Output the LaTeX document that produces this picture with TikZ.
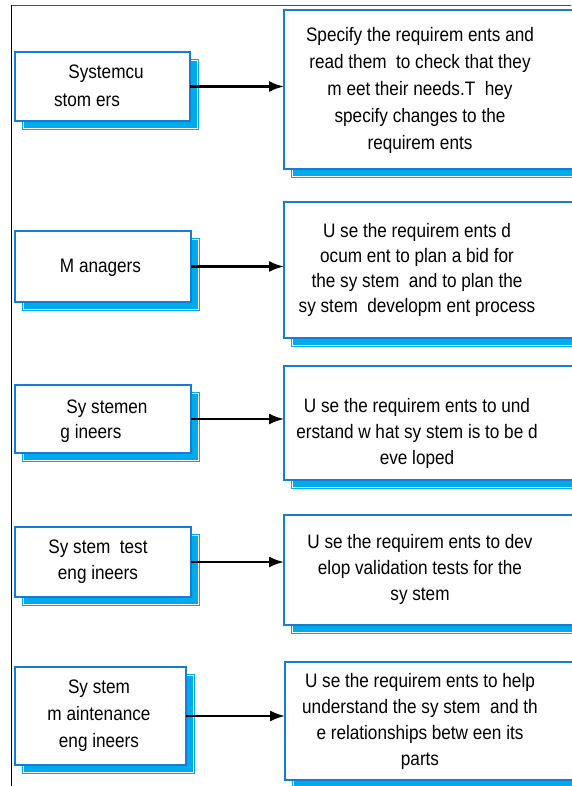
\documentclass[tikz,border=0pt]{standalone}
\usepackage{fontspec}
\setmainfont{Liberation Sans}[FakeStretch=0.88]
\usetikzlibrary{arrows.meta,backgrounds}
\definecolor{boxc}{RGB}{20,125,215}
\definecolor{shc}{RGB}{0,170,235}
\definecolor{framec}{RGB}{80,80,80}
\newcommand\mlines[2]{\fontsize{19.5}{#1}\selectfont\begin{tabular}[t]{@{}c@{}}#2\end{tabular}}
\begin{document}
\begin{tikzpicture}[x=1pt,y=-1pt,
  box/.style={draw=boxc, line width=2.2pt, fill=white, anchor=north west, inner sep=0pt, outer sep=0pt},
  txt/.style={anchor=base, inner sep=0pt, text=black},
  conn/.style={line width=2.2pt, -{Latex[length=15pt,width=11pt]}},
  frameline/.style={line width=1.3pt}]
\useasboundingbox (0,0) rectangle (571,786);
% frame
\draw[frameline, framec] (11,5.5) -- (571,5.5);
\draw[frameline, black, line width=1.1pt] (11.5,5) -- (11.5,786);
% left boxes
\node[box, minimum width=175pt, minimum height=69pt] (L1) at (15,52) {};
\node[box, minimum width=176pt, minimum height=71pt] (L2) at (15,231) {};
\node[box, minimum width=176pt, minimum height=68pt] (L3) at (15,385) {};
\node[box, minimum width=176pt, minimum height=70pt] (L4) at (15,527) {};
\node[box, minimum width=171pt, minimum height=98pt] (L5) at (15,667) {};
% right boxes
\node[box, minimum width=330pt, minimum height=159pt] (R1) at (284,10) {};
\node[box, minimum width=330pt, minimum height=136pt] (R2) at (284,202) {};
\node[box, minimum width=330pt, minimum height=114pt] (R3) at (284,366) {};
\node[box, minimum width=330pt, minimum height=110pt] (R4) at (284,515) {};
\node[box, minimum width=330pt, minimum height=118pt] (R5) at (285,662) {};
% shadows
\begin{pgfonlayer}{background}
\foreach \n in {L1,L2,L3,L4,L5,R1,R2,R3,R4,R5}{
  \fill[shc] ([shift={(7pt,-7pt)}]\n.north west) rectangle ([shift={(9pt,-9pt)}]\n.south east);
  \draw[white, line width=0.8pt] ([shift={(8pt,-8pt)}]\n.north west) rectangle ([shift={(7.5pt,-7.5pt)}]\n.south east);
}
\end{pgfonlayer}
% connectors
\foreach \i in {1,...,5}{
  \draw[conn] (L\i.east) -- (L\i.east -| R\i.west);
}
% left texts
\node[txt] (T1) at (96.5,79) {\mlines{28}{\hspace*{19pt}Systemcu\\stom ers\hspace*{19pt}}};
\node[txt] (T2) at (100.5,272) {\mlines{26.5}{M anagers}};
\node[txt] (T3) at (99,413) {\mlines{25}{\hspace*{16pt}Sy stemen\\g ineers\hspace*{16pt}}};
\node[txt] (T4) at (98,553) {\mlines{26}{Sy stem\ \ test\\eng ineers}};
\node[txt] (T5) at (99,693) {\mlines{27}{Sy stem\\m aintenance\\eng ineers}};
% right texts
\node[txt] (U1) at (420,42) {\mlines{27}{Specify the requirem ents and\\read them\ \ to check that they\\m eet their needs.T\ \ hey\\specify changes to the\\requirem ents}};
\node[txt] (U2) at (417,237) {\mlines{25}{U se the requirem ents d\\ocum ent to plan a bid for\\the sy stem\ \ and to plan the\\sy stem\ \ developm ent process}};
\node[txt] (U3) at (417,412) {\mlines{26}{U se the requirem ents to und\\erstand w hat sy stem is to be d\\eve loped}};
\node[txt] (U4) at (420,548) {\mlines{26}{U se the requirem ents to dev\\elop validation tests for the\\sy stem}};
\node[txt] (U5) at (420,687) {\mlines{26}{U se the requirem ents to help\\understand the sy stem\ \ and th\\e relationships betw een its\\parts}};
\end{tikzpicture}
\end{document}
